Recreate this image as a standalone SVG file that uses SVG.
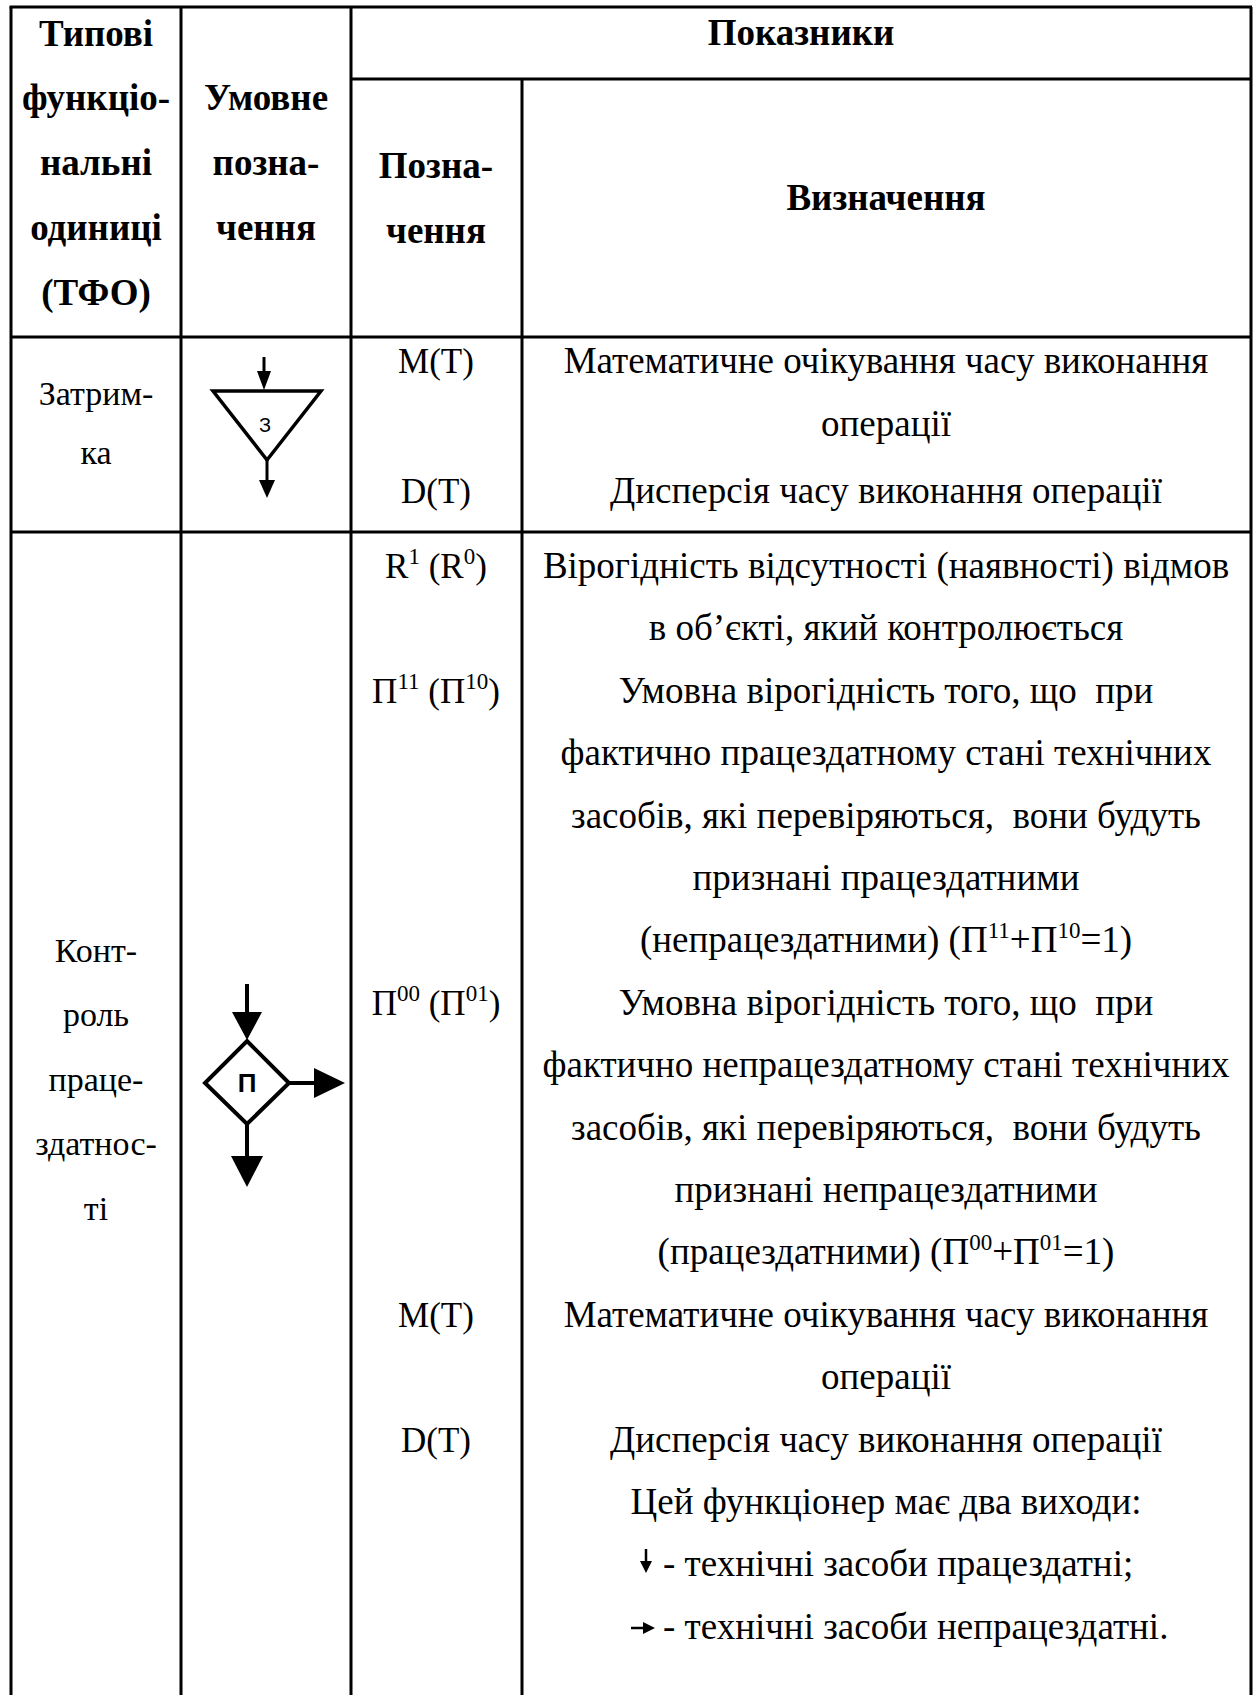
<svg xmlns="http://www.w3.org/2000/svg" width="1253" height="1695" viewBox="0 0 1253 1695">
  <style>
    .grid { stroke: #000; stroke-width: 3; fill: none; }
    .hd { font-family: "Liberation Serif", "Times New Roman", serif; font-size: 37px; font-weight: bold; text-anchor: middle; fill: #000; }
    .c1 { font-family: "Liberation Serif", "Times New Roman", serif; font-size: 34px; text-anchor: middle; fill: #000; }
    .c3 { font-family: "Liberation Serif", "Times New Roman", serif; font-size: 35px; text-anchor: middle; fill: #000; }
    .c4 { font-family: "Liberation Serif", "Times New Roman", serif; font-size: 37px; text-anchor: middle; fill: #000; }
    .c4s { font-family: "Liberation Serif", "Times New Roman", serif; font-size: 37px; text-anchor: start; fill: #000; }
    .sup { font-size: 23px; }
    .sym { stroke: #000; fill: none; stroke-linejoin: miter; }
    .head { fill: #000; stroke: none; }
    .lbl { font-family: "Liberation Sans", Arial, sans-serif; text-anchor: middle; fill: #000; }
  </style>
  <rect width="1253" height="1695" fill="#fff"/>

  <!-- table rules -->
  <g id="table-grid" class="grid">
    <line x1="9.5" y1="7" x2="1252" y2="7"/>
    <line x1="11" y1="7" x2="11" y2="1695"/>
    <line x1="1251" y1="7" x2="1251" y2="1695"/>
    <line x1="181" y1="7" x2="181" y2="1695"/>
    <line x1="351" y1="7" x2="351" y2="1695"/>
    <line x1="522" y1="79" x2="522" y2="1695"/>
    <line x1="351" y1="79" x2="1251" y2="79"/>
    <line x1="11" y1="337" x2="1251" y2="337"/>
    <line x1="11" y1="532" x2="1251" y2="532"/>
  </g>

  <!-- header -->
  <g id="header">
    <text class="hd" x="96" y="46">Типові</text>
    <text class="hd" x="96" y="110">функціо-</text>
    <text class="hd" x="96" y="175">нальні</text>
    <text class="hd" x="96" y="240">одиниці</text>
    <text class="hd" x="96" y="305">(ТФО)</text>
    <text class="hd" x="266" y="110">Умовне</text>
    <text class="hd" x="266" y="175">позна-</text>
    <text class="hd" x="266" y="240">чення</text>
    <text class="hd" x="801" y="45">Показники</text>
    <text class="hd" x="436" y="178">Позна-</text>
    <text class="hd" x="436" y="243">чення</text>
    <text class="hd" x="886" y="210">Визначення</text>
  </g>

  <!-- row 1: delay -->
  <g id="row-delay">
    <text class="c1" x="96" y="405">Затрим-</text>
    <text class="c1" x="96" y="464">ка</text>
    <text class="c3" x="436" y="373">M(T)</text>
    <text class="c3" x="436" y="503">D(T)</text>
    <text class="c4" x="886" y="373">Математичне очікування часу виконання</text>
    <text class="c4" x="886" y="436">операції</text>
    <text class="c4" x="886" y="503">Дисперсія часу виконання операції</text>
  </g>

  <!-- delay symbol -->
  <g id="node-delay">
    <polygon class="sym" stroke-width="3.5" points="213,391 321,391 267,460"/>
    <text class="lbl" x="265" y="432" font-size="20">З</text>
  </g>

  <!-- row 2: operability check -->
  <g id="row-check">
    <text class="c1" x="96" y="962">Конт-</text>
    <text class="c1" x="96" y="1026">роль</text>
    <text class="c1" x="96" y="1091">праце-</text>
    <text class="c1" x="96" y="1155">здатнос-</text>
    <text class="c1" x="96" y="1220">ті</text>

    <text class="c3" x="436" y="578">R<tspan class="sup" dy="-14">1</tspan><tspan dy="14"> (R</tspan><tspan class="sup" dy="-14">0</tspan><tspan dy="14">)</tspan></text>
    <text class="c3" x="436" y="702.8">Π<tspan class="sup" dy="-14">11</tspan><tspan dy="14"> (Π</tspan><tspan class="sup" dy="-14">10</tspan><tspan dy="14">)</tspan></text>
    <text class="c3" x="436" y="1014.8">Π<tspan class="sup" dy="-14">00</tspan><tspan dy="14"> (Π</tspan><tspan class="sup" dy="-14">01</tspan><tspan dy="14">)</tspan></text>
    <text class="c3" x="436" y="1326.8">M(T)</text>
    <text class="c3" x="436" y="1451.6">D(T)</text>

    <text class="c4" x="886" y="578">Вірогідність відсутності (наявності) відмов</text>
    <text class="c4" x="886" y="640.4">в об’єкті, який контролюється</text>
    <text class="c4" x="886" y="702.8" xml:space="preserve">Умовна вірогідність того, що  при</text>
    <text class="c4" x="886" y="765.2">фактично працездатному стані технічних</text>
    <text class="c4" x="886" y="827.6" xml:space="preserve">засобів, які перевіряються,  вони будуть</text>
    <text class="c4" x="886" y="890">признані працездатними</text>
    <text class="c4" x="886" y="952.4">(непрацездатними) (Π<tspan class="sup" dy="-14">11</tspan><tspan dy="14">+Π</tspan><tspan class="sup" dy="-14">10</tspan><tspan dy="14">=1)</tspan></text>
    <text class="c4" x="886" y="1014.8" xml:space="preserve">Умовна вірогідність того, що  при</text>
    <text class="c4" x="886" y="1077.2">фактично непрацездатному стані технічних</text>
    <text class="c4" x="886" y="1139.6" xml:space="preserve">засобів, які перевіряються,  вони будуть</text>
    <text class="c4" x="886" y="1202">признані непрацездатними</text>
    <text class="c4" x="886" y="1264.4">(працездатними) (Π<tspan class="sup" dy="-14">00</tspan><tspan dy="14">+Π</tspan><tspan class="sup" dy="-14">01</tspan><tspan dy="14">=1)</tspan></text>
    <text class="c4" x="886" y="1326.8">Математичне очікування часу виконання</text>
    <text class="c4" x="886" y="1389.2">операції</text>
    <text class="c4" x="886" y="1451.6">Дисперсія часу виконання операції</text>
    <text class="c4" x="886" y="1514">Цей функціонер має два виходи:</text>
    <text class="c4s" x="663" y="1576.4">- технічні засоби працездатні;</text>
    <text class="c4s" x="663" y="1638.8">- технічні засоби непрацездатні.</text>
  </g>

  <!-- check symbol -->
  <g id="node-check">
    <polygon class="sym" stroke-width="4" points="247,1041 289,1083 247,1124 205,1083"/>
    <text class="lbl" x="247" y="1092" font-size="26" font-weight="bold">П</text>
  </g>

  <!-- connectors: in/out flows of the symbols and legend arrows -->
  <g id="connectors">
    <line class="sym" stroke-width="3" x1="264" y1="357" x2="264" y2="373"/>
    <polygon class="head" points="257,371 271,371 264,390"/>
    <line class="sym" stroke-width="3" x1="267" y1="460" x2="267" y2="481"/>
    <polygon class="head" points="259,480 275,480 267,498"/>

    <line class="sym" stroke-width="4" x1="247" y1="984" x2="247" y2="1013"/>
    <polygon class="head" points="232,1012 262,1012 247,1040"/>
    <line class="sym" stroke-width="4" x1="247" y1="1124" x2="247" y2="1157"/>
    <polygon class="head" points="231,1156 263,1156 247,1187"/>
    <line class="sym" stroke-width="4" x1="289" y1="1083" x2="315" y2="1083"/>
    <polygon class="head" points="314,1068 314,1098 345,1083"/>

    <line class="sym" stroke-width="2.5" x1="646" y1="1549" x2="646" y2="1562"/>
    <polygon class="head" points="640,1561 652,1561 646,1573"/>
    <line class="sym" stroke-width="2.5" x1="631" y1="1628" x2="645" y2="1628"/>
    <polygon class="head" points="643,1622 643,1634 655,1628"/>
  </g>
</svg>
